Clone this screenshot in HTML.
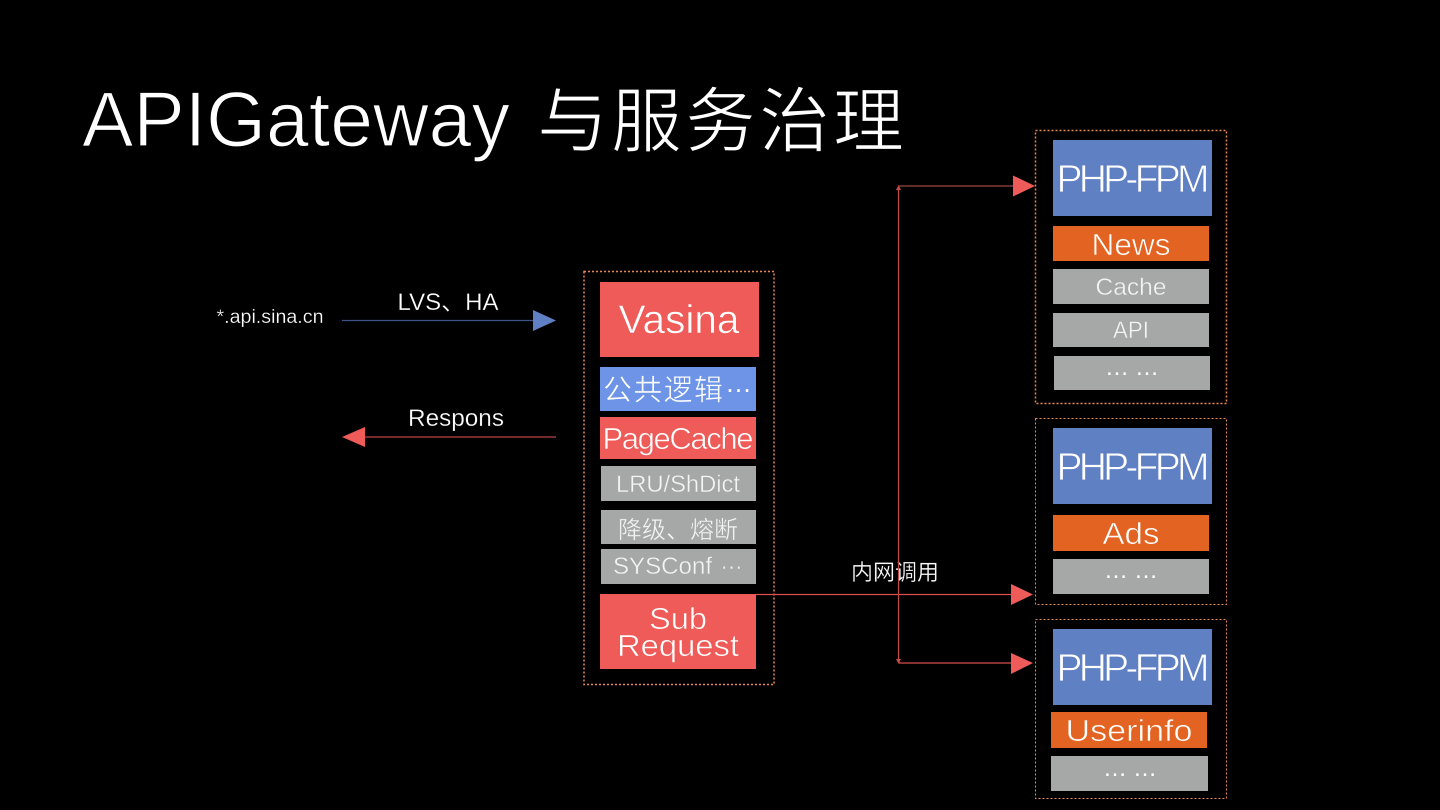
<!DOCTYPE html>
<html><head><meta charset="utf-8"><style>
html,body{margin:0;padding:0;background:#000;width:1440px;height:810px;overflow:hidden}
svg{display:block}
text{font-family:"Liberation Sans","Noto Sans CJK SC",sans-serif;fill:#fff;font-weight:400;text-anchor:middle}
.d{fill:none;stroke:#ea8650;stroke-width:1;stroke-dasharray:2 2}
.d2{fill:none;stroke:#ea8650;stroke-width:1.500;stroke-dasharray:2 2}
.k{stroke:#000;stroke-width:.25}
.t{stroke:#000;stroke-width:1.300}
.r{stroke:#ee5b58;stroke-width:.6}
.bl{stroke:#6d94e6;stroke-width:.5}
.b{stroke:#5f80c2;stroke-width:.8}
.o{stroke:#e36422;stroke-width:.6}
.g{stroke:#a5a8a7;stroke-width:.4;fill:#f4f4f4}
.s{text-anchor:start}
</style></head><body>
<svg width="1440" height="810" viewBox="0 0 1440 810" xmlns="http://www.w3.org/2000/svg">
<rect width="1440" height="810" fill="#000"/>
<text class="t s" x="82" y="146" font-size="78" textLength="428" lengthAdjust="spacingAndGlyphs">APIGateway</text>
<text class="t s" x="537" y="146" font-size="71" textLength="367" lengthAdjust="spacing">与服务治理</text>

<rect class="d2" x="584" y="271.500" width="190" height="413"/>
<rect class="d2" x="1035.500" y="130.500" width="191" height="273"/>
<rect class="d" x="1035.500" y="418.500" width="191" height="186"/>
<rect class="d" x="1035.500" y="619.500" width="191" height="179"/>

<!-- left stack -->
<rect x="600" y="282" width="159" height="75" fill="#ee5b58"/>
<text class="r" x="679" y="333" font-size="40" textLength="121" lengthAdjust="spacingAndGlyphs">Vasina</text>
<rect x="600" y="367" width="156" height="44" fill="#6d94e6"/>
<text class="bl s" x="603" y="400" font-size="29" textLength="120" lengthAdjust="spacing">公共逻辑</text>
<text class="s" x="725" y="392" font-size="27" textLength="27" lengthAdjust="spacingAndGlyphs">…</text>
<rect x="600" y="417" width="156" height="42" fill="#ee5b58"/>
<text class="r" x="678" y="449" font-size="31" textLength="151" lengthAdjust="spacing">PageCache</text>
<rect x="601" y="466" width="155" height="35" fill="#a5a8a7"/>
<text class="g" x="678" y="492" font-size="24" textLength="124" lengthAdjust="spacingAndGlyphs">LRU/ShDict</text>
<rect x="601" y="510" width="155" height="34" fill="#a5a8a7"/>
<text class="g" x="678" y="538" font-size="24" textLength="120" lengthAdjust="spacingAndGlyphs">降级、熔断</text>
<rect x="601" y="549" width="155" height="35" fill="#a5a8a7"/>
<text class="g s" x="613" y="574" font-size="24" textLength="99" lengthAdjust="spacingAndGlyphs">SYSConf</text>
<text class="g s" x="720" y="569" font-size="24" textLength="23" lengthAdjust="spacingAndGlyphs">…</text>
<rect x="600" y="594" width="156" height="75" fill="#ee5b58"/>
<text class="r" x="678" y="629" font-size="31" textLength="58" lengthAdjust="spacingAndGlyphs">Sub</text>
<text class="r" x="678" y="656" font-size="31" textLength="122" lengthAdjust="spacingAndGlyphs">Request</text>

<!-- right 1 -->
<rect x="1053" y="140" width="159" height="76" fill="#5f80c2"/>
<text class="b" x="1133" y="192" font-size="39" textLength="153" lengthAdjust="spacing">PHP-FPM</text>
<rect x="1053" y="226" width="156" height="35" fill="#e36422"/>
<text class="o" x="1131" y="255" font-size="31" textLength="79" lengthAdjust="spacingAndGlyphs">News</text>
<rect x="1053" y="269" width="156" height="35" fill="#a5a8a7"/>
<text class="g" x="1131" y="295" font-size="24" textLength="71" lengthAdjust="spacingAndGlyphs">Cache</text>
<rect x="1053" y="313" width="156" height="34" fill="#a5a8a7"/>
<text class="g" x="1131" y="338" font-size="24" textLength="36" lengthAdjust="spacingAndGlyphs">API</text>
<rect x="1054" y="356" width="156" height="34" fill="#a5a8a7"/>
<text x="1132" y="375" font-size="24" textLength="54" lengthAdjust="spacing">… …</text>

<!-- right 2 -->
<rect x="1053" y="428" width="159" height="76" fill="#5f80c2"/>
<text class="b" x="1133" y="480" font-size="39" textLength="153" lengthAdjust="spacing">PHP-FPM</text>
<rect x="1053" y="515" width="156" height="36" fill="#e36422"/>
<text class="o" x="1131" y="544" font-size="31" textLength="57" lengthAdjust="spacingAndGlyphs">Ads</text>
<rect x="1053" y="559" width="156" height="35" fill="#a5a8a7"/>
<text x="1131" y="578" font-size="24" textLength="54" lengthAdjust="spacing">… …</text>

<!-- right 3 -->
<rect x="1053" y="629" width="159" height="76" fill="#5f80c2"/>
<text class="b" x="1133" y="681" font-size="39" textLength="153" lengthAdjust="spacing">PHP-FPM</text>
<rect x="1051" y="712" width="156" height="36" fill="#e36422"/>
<text class="o" x="1129" y="741" font-size="31" textLength="127" lengthAdjust="spacingAndGlyphs">Userinfo</text>
<rect x="1051" y="756" width="157" height="35" fill="#a5a8a7"/>
<text x="1130" y="776" font-size="24" textLength="54" lengthAdjust="spacing">… …</text>

<!-- left connectors -->
<text class="k" x="270" y="323" font-size="19" textLength="107" lengthAdjust="spacingAndGlyphs">*.api.sina.cn</text>
<text class="k" x="448" y="310" font-size="24" textLength="101" lengthAdjust="spacingAndGlyphs">LVS、HA</text>
<line x1="342" y1="320.500" x2="534" y2="320.500" stroke="#3d5488" stroke-width="1.200"/>
<polygon points="533,310 556,320.500 533,331" fill="#5f80c2"/>
<text class="k" x="456" y="426" font-size="24" textLength="96" lengthAdjust="spacingAndGlyphs">Respons</text>
<line x1="364" y1="437" x2="556" y2="437" stroke="#b84444" stroke-width="1.200"/>
<polygon points="365,427 342,437 365,447" fill="#ee5b58"/>

<!-- right connectors -->
<text class="k" x="895" y="580" font-size="22" textLength="88" lengthAdjust="spacingAndGlyphs">内网调用</text>
<line x1="756" y1="594.500" x2="1013" y2="594.500" stroke="#d9504e" stroke-width="1.200"/>
<polygon points="1011,584 1033,594.500 1011,605" fill="#ee5b58"/>
<line x1="898.500" y1="188" x2="898.500" y2="660" stroke="#c24a48" stroke-width="1.200"/>
<polygon points="898.500,185 901,190 896,190" fill="#c24a48"/>
<polygon points="898.500,664 901,659 896,659" fill="#c24a48"/>
<line x1="899" y1="186" x2="1014" y2="186" stroke="#7d3a38" stroke-width="1.500"/>
<polygon points="1013,175.500 1035,186 1013,196.500" fill="#ee5b58"/>
<line x1="899" y1="663" x2="1014" y2="663" stroke="#d9504e" stroke-width="1.200"/>
<polygon points="1011,653 1033,663 1011,674" fill="#ee5b58"/>
</svg>
</body></html>
